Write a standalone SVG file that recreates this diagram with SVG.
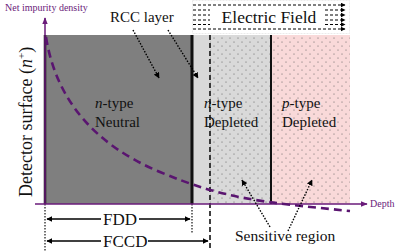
<svg xmlns="http://www.w3.org/2000/svg" width="397" height="251" viewBox="0 0 397 251">
<defs>
<pattern id="dots" width="8" height="8" patternUnits="userSpaceOnUse">
<circle cx="2" cy="2" r="0.55" fill="#555"/>
<circle cx="6" cy="6" r="0.55" fill="#555"/>
</pattern>
<marker id="ah" viewBox="0 0 10 10" refX="9" refY="5" markerWidth="6" markerHeight="6" orient="auto-start-reverse" markerUnits="userSpaceOnUse">
<path d="M0,0 L10,5 L0,10 z" fill="#000"/>
</marker>
<marker id="ahs" viewBox="0 0 10 10" refX="9" refY="5" markerWidth="5" markerHeight="5" orient="auto" markerUnits="userSpaceOnUse">
<path d="M0,0 L10,5 L0,10 z" fill="#000"/>
</marker>
<marker id="ahp" viewBox="0 0 10 10" refX="9" refY="5" markerWidth="7" markerHeight="7" orient="auto" markerUnits="userSpaceOnUse">
<path d="M0,1 L10,5 L0,9 z" fill="#6a1b7a"/>
</marker>
</defs>
<style>
text{font-family:"Liberation Serif","Times New Roman",serif}
.t{fill:#111}
.ax{fill:#6a1b7a;font-size:10px}
.dot{stroke:#000;stroke-width:1.4;stroke-dasharray:1.5 1.5;fill:none}
.ef{stroke:#000;stroke-width:1;stroke-dasharray:3 2;fill:none}
</style>

<g id="neutral">
<rect x="45" y="35" width="147" height="169" fill="#7f7f7f"/>
<text class="t" x="95" y="108" font-size="15"><tspan font-style="italic">n</tspan>-type</text>
<text class="t" x="95" y="127" font-size="15">Neutral</text>
</g>

<g id="rcc">
<rect x="192" y="35" width="18" height="169" fill="#d9d9d9"/>
</g>

<g id="n-depleted">
<rect x="210" y="35" width="61" height="169" fill="#d9d9d9"/>
<rect x="210" y="35" width="61" height="169" fill="url(#dots)"/>
<text class="t" x="204" y="108" font-size="15"><tspan font-style="italic">n</tspan>-type</text>
<text class="t" x="204" y="127" font-size="15">Depleted</text>
</g>

<g id="p-depleted">
<rect x="271" y="35" width="79" height="169" fill="#f9d9d9"/>
<rect x="271" y="35" width="79" height="169" fill="url(#dots)"/>
<text class="t" x="282" y="108" font-size="15"><tspan font-style="italic">p</tspan>-type</text>
<text class="t" x="282" y="127" font-size="15">Depleted</text>
</g>

<g id="boundaries">
<line x1="45" y1="35" x2="45" y2="204" stroke="#111" stroke-width="2.5"/>
<line x1="192" y1="35" x2="192" y2="204" stroke="#111" stroke-width="3"/>
<line x1="271" y1="35" x2="271" y2="204" stroke="#111" stroke-width="2"/>
<line x1="210" y1="35" x2="210" y2="251" stroke="#111" stroke-width="1.6" stroke-dasharray="5 3"/>
<line x1="45" y1="204" x2="45" y2="251" stroke="#111" stroke-width="1.2" stroke-dasharray="1.5 1.5"/>
<line x1="192" y1="204" x2="192" y2="233" stroke="#111" stroke-width="1.2" stroke-dasharray="1.5 1.5"/>
</g>

<g id="efield">
<rect x="192.5" y="0.5" width="157" height="33" fill="#fff" stroke="#ddd" stroke-width="0.6" stroke-dasharray="2 1"/>
<line class="ef" x1="193" y1="5" x2="345" y2="5" marker-end="url(#ahs)"/>
<line class="ef" x1="193" y1="10" x2="210" y2="10"/>
<line class="ef" x1="325" y1="10" x2="345" y2="10" marker-end="url(#ahs)"/>
<line class="ef" x1="193" y1="15" x2="210" y2="15"/>
<line class="ef" x1="325" y1="15" x2="345" y2="15" marker-end="url(#ahs)"/>
<line class="ef" x1="193" y1="20" x2="210" y2="20"/>
<line class="ef" x1="325" y1="20" x2="345" y2="20" marker-end="url(#ahs)"/>
<line class="ef" x1="193" y1="24.5" x2="210" y2="24.5"/>
<line class="ef" x1="325" y1="24.5" x2="345" y2="24.5" marker-end="url(#ahs)"/>
<line class="ef" x1="193" y1="29" x2="345" y2="29" marker-end="url(#ahs)"/>
<text class="t" x="269" y="23" font-size="17.5" text-anchor="middle">Electric Field</text>
</g>

<g id="axes">
<line x1="45" y1="204" x2="45" y2="18" stroke="#6a1b7a" stroke-width="1.5" marker-end="url(#ahp)"/>
<line x1="35" y1="204" x2="367" y2="204" stroke="#6a1b7a" stroke-width="1.5" marker-end="url(#ahp)"/>
<text class="ax" x="5" y="11">Net impurity density</text>
<text class="ax" x="370" y="207">Depth</text>
</g>

<g id="profile">
<path d="M46,37 C56,100 95,145 160,172 S260,202 350,211" fill="none" stroke="#5a1570" stroke-width="2.6" stroke-dasharray="8 5"/>
</g>

<g id="labels">
<text class="t" font-size="18" transform="translate(32,197) rotate(-90)">Detector surface (<tspan font-style="italic">n</tspan><tspan font-size="11" dy="-7">+</tspan><tspan dy="7">)</tspan></text>
<text class="t" x="110" y="22" font-size="15">RCC layer</text>
<text class="t" x="235" y="241" font-size="15.5">Sensitive region</text>
<text class="t" x="103" y="225" font-size="17">FDD</text>
<text class="t" x="103" y="247" font-size="17">FCCD</text>
</g>

<g id="connectors">
<line class="dot" x1="133" y1="30" x2="159" y2="78" marker-end="url(#ah)"/>
<line class="dot" x1="168" y1="30" x2="198" y2="78" marker-end="url(#ah)"/>
<line class="dot" x1="270" y1="227" x2="242" y2="180" marker-end="url(#ah)"/>
<line class="dot" x1="288" y1="231" x2="312" y2="180" marker-end="url(#ah)"/>
<line x1="47" y1="219" x2="101" y2="219" stroke="#000" stroke-width="1.3" marker-start="url(#ah)"/>
<line x1="139" y1="219" x2="190" y2="219" stroke="#000" stroke-width="1.3" marker-end="url(#ah)"/>
<line x1="47" y1="241" x2="101" y2="241" stroke="#000" stroke-width="1.3" marker-start="url(#ah)"/>
<line x1="148" y1="241" x2="208" y2="241" stroke="#000" stroke-width="1.3" marker-end="url(#ah)"/>
</g>
</svg>
